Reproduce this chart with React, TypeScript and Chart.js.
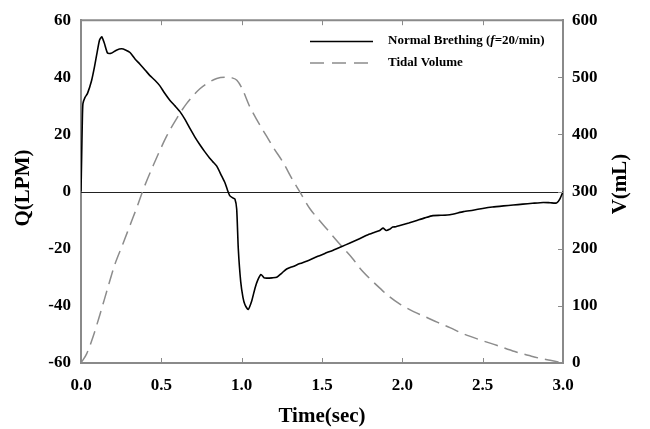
import React, { useEffect, useRef } from "react";
import { Chart, registerables } from "chart.js";

Chart.register(...registerables);

const xTicks = [0, 0.5, 1.0, 1.5, 2.0, 2.5, 3.0];
const leftTicks = [-60, -40, -20, 0, 20, 40, 60];
const rightTicks = [0, 100, 200, 300, 400, 500, 600];

const flowT = [0, 0.004, 0.008, 0.012, 0.025, 0.04, 0.066, 0.085, 0.098, 0.115, 0.129, 0.145, 0.165, 0.187, 0.22, 0.253, 0.28, 0.305, 0.335, 0.367, 0.4, 0.429, 0.46, 0.49, 0.52, 0.554, 0.585, 0.616, 0.65, 0.678, 0.71, 0.74, 0.77, 0.8, 0.82, 0.845, 0.875, 0.896, 0.912, 0.927, 0.945, 0.958, 0.969, 0.979, 0.994, 1.008, 1.02, 1.04, 1.062, 1.083, 1.1, 1.12, 1.14, 1.155, 1.19, 1.218, 1.25, 1.28, 1.32, 1.363, 1.42, 1.467, 1.52, 1.57, 1.62, 1.674, 1.73, 1.778, 1.82, 1.86, 1.88, 1.9, 1.92, 1.94, 1.96, 1.985, 2.04, 2.09, 2.14, 2.19, 2.24, 2.296, 2.38, 2.44, 2.5, 2.56, 2.63, 2.69, 2.75, 2.81, 2.877, 2.92, 2.96, 2.98, 3.0];
const flowQ = [0, 12, 24, 30.8, 33, 34.3, 38.9, 44, 48, 53, 54.2, 52, 48.5, 48.4, 49.5, 50, 49.5, 48.7, 46.5, 44.6, 42.5, 40.6, 39, 37.1, 34.5, 31.9, 30, 28, 25, 22.1, 19, 16.4, 14, 11.8, 10.5, 8.9, 5.5, 3.1, 0.5, -1.5, -2.2, -2.6, -6.1, -20, -31.5, -37, -39.5, -41.3, -38.4, -33.8, -31, -29, -30.2, -30.3, -30.2, -30, -28.5, -27.1, -26.2, -25.2, -24, -22.8, -21.6, -20.5, -19.3, -18, -16.6, -15.3, -14.4, -13.6, -12.8, -13.6, -13.2, -12.4, -12.3, -11.9, -11, -10.1, -9.2, -8.4, -8.3, -8.1, -7, -6.5, -5.9, -5.4, -5, -4.7, -4.4, -4.1, -3.8, -3.9, -4, -2.6, 0];

const volT = [0, 0.035, 0.075, 0.118, 0.165, 0.21, 0.26, 0.305, 0.35, 0.388, 0.45, 0.533, 0.6, 0.657, 0.74, 0.8, 0.845, 0.907, 0.94, 0.97, 1.0, 1.05, 1.1, 1.155, 1.2, 1.258, 1.31, 1.363, 1.425, 1.48, 1.529, 1.58, 1.633, 1.69, 1.736, 1.8, 1.86, 1.92, 1.985, 2.07, 2.15, 2.22, 2.296, 2.38, 2.5, 2.587, 2.7, 2.79, 2.86, 2.92, 2.97, 3.0];
const volV = [0, 16, 46, 85, 130, 172, 208, 241, 274, 304, 346, 397, 430, 454, 480, 492, 498, 500, 499, 495, 482, 449, 423, 397, 376, 351, 324, 299, 270, 251, 235, 218, 201, 183, 166, 147, 131, 116, 103, 90, 80, 71, 62, 51, 39, 31, 20, 13, 8, 5, 2, 0];

const SERIF = '"Liberation Serif", "Times New Roman", serif';

export default function App() {
  const ref = useRef<HTMLCanvasElement | null>(null);

  useEffect(() => {
    document.body.style.margin = "0";
    const canvas = ref.current;
    if (!canvas) return;

    const decor = {
      id: "decor",
      beforeDatasetsDraw(chart: any) {
        const ctx = chart.ctx;
        const { left, right } = chart.chartArea;
        const y0 = chart.scales.y.getPixelForValue(0);
        ctx.save();
        ctx.strokeStyle = "#222";
        ctx.lineWidth = 1;
        ctx.beginPath();
        ctx.moveTo(left, Math.round(y0) + 0.5);
        ctx.lineTo(right, Math.round(y0) + 0.5);
        ctx.stroke();
        ctx.restore();
      },
      afterDraw(chart: any) {
        const ctx = chart.ctx;
        const { left, right, top, bottom } = chart.chartArea;
        const xs = chart.scales.x;
        const yr = chart.scales.y1;
        ctx.save();
        ctx.strokeStyle = "#8a8a8a";
        ctx.lineWidth = 2;
        ctx.beginPath();
        ctx.moveTo(left - 1, top);
        ctx.lineTo(right + 1, top);
        ctx.stroke();
        ctx.lineWidth = 1;
        ctx.beginPath();
        for (const v of xTicks) {
          const px = Math.round(xs.getPixelForValue(v)) + 0.5;
          ctx.moveTo(px, bottom);
          ctx.lineTo(px, bottom - 5);
          ctx.moveTo(px, top);
          ctx.lineTo(px, top + 5);
        }
        for (const v of rightTicks) {
          const py = Math.round(yr.getPixelForValue(v)) + 0.5;
          ctx.moveTo(right, py);
          ctx.lineTo(right - 5, py);
        }
        ctx.stroke();

        // axis titles
        ctx.fillStyle = "#000";
        ctx.font = `bold 21px ${SERIF}`;
        ctx.textAlign = "center";
        ctx.textBaseline = "middle";
        ctx.fillText("Time(sec)", 322, 417);
        ctx.save();
        ctx.translate(24, 188);
        ctx.rotate(-Math.PI / 2);
        ctx.fillText("Q(LPM)", 0, 0);
        ctx.restore();
        ctx.save();
        ctx.translate(621, 184);
        ctx.rotate(-Math.PI / 2);
        ctx.fillText("V(mL)", 0, 0);
        ctx.restore();

        // legend
        ctx.lineWidth = 1.5;
        ctx.strokeStyle = "#000";
        ctx.beginPath();
        ctx.moveTo(310, 41.5);
        ctx.lineTo(373, 41.5);
        ctx.stroke();
        ctx.strokeStyle = "#8c8c8c";
        ctx.setLineDash([14, 8]);
        ctx.beginPath();
        ctx.moveTo(310, 63);
        ctx.lineTo(373, 63);
        ctx.stroke();
        ctx.setLineDash([]);
        ctx.textAlign = "left";
        ctx.textBaseline = "middle";
        ctx.fillStyle = "#000";
        let x = 388;
        const parts: [string, string][] = [
          ["Normal Brething (", `bold 13px ${SERIF}`],
          ["f", `italic bold 13px ${SERIF}`],
          ["=20/min)", `bold 13px ${SERIF}`],
        ];
        for (const [t, f] of parts) {
          ctx.font = f;
          ctx.fillText(t, x, 41);
          x += ctx.measureText(t).width;
        }
        ctx.font = `bold 13px ${SERIF}`;
        ctx.fillText("Tidal Volume", 388, 63);
        ctx.restore();
      },
    };

    const tickFont = { family: SERIF, size: 17, weight: "bold" as const };

    const chart = new Chart(canvas, {
      type: "line",
      data: {
        datasets: [
          {
            label: "Normal Brething (f=20/min)",
            data: flowT.map((t, i) => ({ x: t, y: flowQ[i] })),
            borderColor: "#000",
            borderWidth: 1.6,
            pointRadius: 0,
            tension: 0.2,
            yAxisID: "y",
          },
          {
            label: "Tidal Volume",
            data: volT.map((t, i) => ({ x: t, y: volV[i] })),
            borderColor: "#8c8c8c",
            borderWidth: 1.5,
            borderDash: [14, 7],
            pointRadius: 0,
            cubicInterpolationMode: "monotone",
            yAxisID: "y1",
          },
        ],
      },
      options: {
        animation: false,
        responsive: true,
        maintainAspectRatio: false,
        layout: { padding: { top: 16, left: 0, right: 0, bottom: 0 } },
        plugins: { legend: { display: false }, tooltip: { enabled: false } },
        scales: {
          x: {
            type: "linear",
            min: 0,
            max: 3,
            afterBuildTicks: (s: any) => {
              s.ticks = xTicks.map((v) => ({ value: v }));
            },
            afterFit: (s: any) => {
              s.height = 66;
            },
            grid: { display: false, drawTicks: false },
            border: { display: true, color: "#8a8a8a", width: 2 },
            ticks: {
              color: "#000",
              font: tickFont,
              padding: 12,
              maxRotation: 0,
              callback: (v: any) => Number(v).toFixed(1),
            },
          },
          y: {
            type: "linear",
            position: "left",
            min: -60,
            max: 60,
            afterBuildTicks: (s: any) => {
              s.ticks = leftTicks.map((v) => ({ value: v }));
            },
            afterFit: (s: any) => {
              s.width = 81;
            },
            grid: { display: false, drawTicks: false },
            border: { display: true, color: "#8a8a8a", width: 2 },
            ticks: { color: "#000", font: tickFont, padding: 10 },
          },
          y1: {
            type: "linear",
            position: "right",
            min: 0,
            max: 600,
            afterBuildTicks: (s: any) => {
              s.ticks = rightTicks.map((v) => ({ value: v }));
            },
            afterFit: (s: any) => {
              s.width = 87;
            },
            grid: { display: false, drawTicks: false },
            border: { display: true, color: "#8a8a8a", width: 2 },
            ticks: { color: "#000", font: tickFont, padding: 9 },
          },
        },
      },
      plugins: [decor],
    });
    return () => chart.destroy();
  }, []);

  return (
    <div style={{ width: 650, height: 429, position: "relative", background: "#fff" }}>
      <canvas ref={ref} />
    </div>
  );
}
